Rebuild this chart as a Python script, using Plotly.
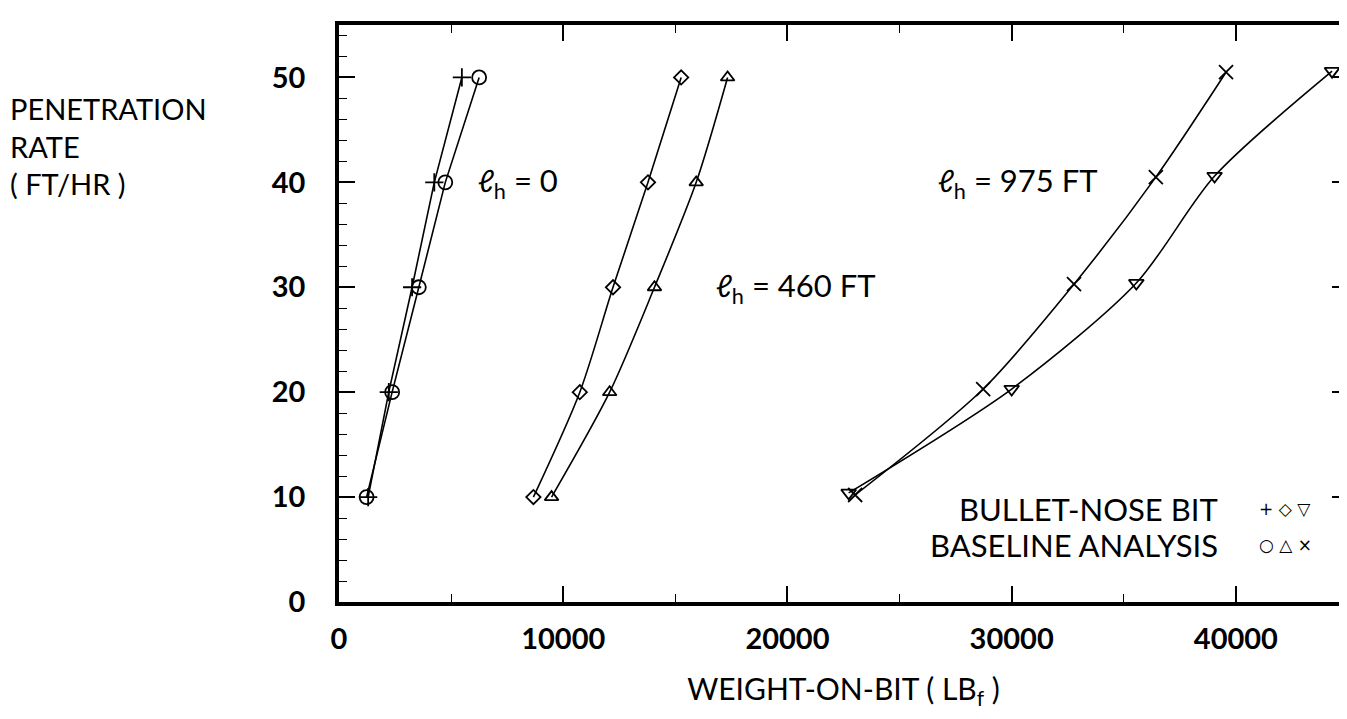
import plotly.graph_objects as go

# ---- data ----
rate = [10, 20, 30, 40, 50]
rate_975_bullet = [10.4, 20.3, 30.4, 40.6, 50.6]
rate_975_base = [10.2, 20.3, 30.3, 40.5, 50.5]

wob_bullet_0 = [1300, 2220, 3260, 4250, 5480]
wob_base_0 = [1230, 2370, 3560, 4740, 6250]
wob_bullet_460 = [8670, 10740, 12220, 13780, 15260]
wob_base_460 = [9480, 12070, 14070, 15930, 17330]
wob_bullet_975 = [22730, 30000, 35560, 39050, 44290]
wob_base_975 = [23020, 28730, 32780, 36430, 39560]

x_ticks = [0, 10000, 20000, 30000, 40000]
y_ticks = [0, 10, 20, 30, 40, 50]

FONT = "Lato"
fig = go.Figure()

def add(xv, yv, symbol, size, shape="spline"):
    fig.add_trace(go.Scatter(
        x=xv, y=yv, mode="lines+markers",
        line=dict(color="black", width=1.6, shape=shape, smoothing=0.8),
        marker=dict(symbol=symbol, size=size, color="black",
                    line=dict(color="black", width=1.8)),
        showlegend=False, cliponaxis=False))

add(wob_bullet_0, rate, "cross-thin-open", 13, "linear")
add(wob_base_0, rate, "circle-open", 14, "linear")
add(wob_bullet_460, rate, "diamond-open", 11)
add(wob_base_460, rate, "triangle-up-open", 12)
add(wob_bullet_975, rate_975_bullet, "triangle-down-open", 13)
add(wob_base_975, rate_975_base, "x-thin-open", 14)

axis_common = dict(showline=True, linecolor="black", linewidth=3.5, mirror="allticks",
                   ticks="inside", ticklen=16, tickwidth=1.5, tickcolor="black",
                   showgrid=False, zeroline=False,
                   tickfont=dict(family=FONT, size=29, color="black", weight="bold"))

fig.update_xaxes(range=[0, 45000], tickvals=x_ticks, ticktext=[str(v) for v in x_ticks],
                 minor=dict(dtick=5000, tick0=0, ticks="inside", ticklen=8, tickwidth=1.2,
                            tickcolor="black"),
                 title=dict(text="WEIGHT-ON-BIT ( LB<sub>f</sub> )",
                            font=dict(family=FONT, size=30, color="black"), standoff=26),
                 ticklabelstandoff=8,
                 **axis_common)
fig.update_yaxes(range=[0, 55], tickvals=y_ticks, ticktext=[str(v) for v in y_ticks],
                 minor=dict(dtick=2, tick0=0, ticks="inside", ticklen=8, tickwidth=1.2,
                            tickcolor="black"),
                 ticklabelstandoff=24,
                 **axis_common)

ann_font = dict(family=FONT, size=31, color="black")
def lbl(x, y, txt):
    fig.add_annotation(x=x, y=y, xref="x", yref="y", text=txt, showarrow=False,
                       font=ann_font, xanchor="center", yanchor="middle")

lbl(8000, 40, "<i>ℓ</i><sub>h</sub> = 0")
lbl(20400, 30, "<i>ℓ</i><sub>h</sub> = 460 FT")
lbl(30300, 40, "<i>ℓ</i><sub>h</sub> = 975 FT")

# legend (text + symbols)
fig.add_annotation(x=39300, y=8.9, xref="x", yref="y", text="BULLET-NOSE BIT",
                   showarrow=False, font=ann_font, xanchor="right", yanchor="middle")
fig.add_annotation(x=39300, y=5.4, xref="x", yref="y", text="BASELINE ANALYSIS",
                   showarrow=False, font=ann_font, xanchor="right", yanchor="middle")
sym_font = dict(family="DejaVu Sans", size=17, color="black")
fig.add_annotation(x=42200, y=8.9, xref="x", yref="y", text="+ ◇ ▽",
                   showarrow=False, font=sym_font, xanchor="center", yanchor="middle")
fig.add_annotation(x=42200, y=5.4, xref="x", yref="y", text="○ △ ×",
                   showarrow=False, font=sym_font, xanchor="center", yanchor="middle")

# y-axis title (horizontal, top-left)
fig.add_annotation(x=-0.328, y=0.79, xref="paper", yref="paper",
                   text="PENETRATION<br>RATE<br>( FT/HR )", align="left",
                   showarrow=False, font=dict(family=FONT, size=29, color="black"),
                   xanchor="left", yanchor="middle")

fig.update_layout(width=1347, height=719,
                  margin=dict(l=331, r=7, t=17, b=125, autoexpand=False),
                  plot_bgcolor="white", paper_bgcolor="white")

fig.write_html("out.html")
